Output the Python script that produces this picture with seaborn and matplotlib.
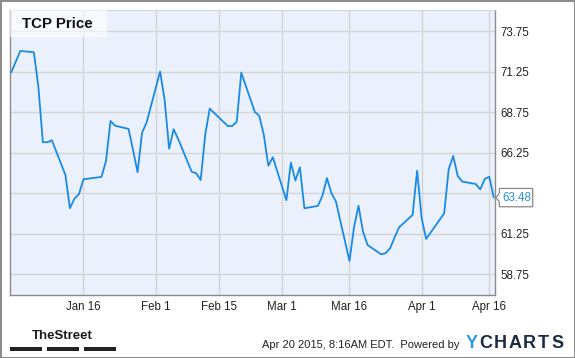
import matplotlib
matplotlib.use("Agg")
import matplotlib.pyplot as plt
import matplotlib.dates as mdates
from matplotlib.patches import Rectangle, Polygon
import pandas as pd
import seaborn as sns

# ---------------- data ----------------
dates = [
    "2014-12-31", "2015-01-02", "2015-01-05", "2015-01-06", "2015-01-07", "2015-01-08",
    "2015-01-09", "2015-01-12", "2015-01-13", "2015-01-14", "2015-01-15", "2015-01-16",
    "2015-01-20", "2015-01-21", "2015-01-22", "2015-01-23", "2015-01-26", "2015-01-27",
    "2015-01-28", "2015-01-29", "2015-01-30", "2015-02-02", "2015-02-03", "2015-02-04",
    "2015-02-05", "2015-02-06", "2015-02-09", "2015-02-10", "2015-02-11", "2015-02-12",
    "2015-02-13", "2015-02-17", "2015-02-18", "2015-02-19", "2015-02-20", "2015-02-23",
    "2015-02-24", "2015-02-25", "2015-02-26", "2015-02-27", "2015-03-02", "2015-03-03",
    "2015-03-04", "2015-03-05", "2015-03-06", "2015-03-09", "2015-03-10", "2015-03-11",
    "2015-03-12", "2015-03-13", "2015-03-16", "2015-03-17", "2015-03-18", "2015-03-19",
    "2015-03-20", "2015-03-23", "2015-03-24", "2015-03-25", "2015-03-26", "2015-03-27",
    "2015-03-30", "2015-03-31", "2015-04-01", "2015-04-02", "2015-04-06", "2015-04-07",
    "2015-04-08", "2015-04-09", "2015-04-10", "2015-04-13", "2015-04-14", "2015-04-15",
    "2015-04-16", "2015-04-17",
]
prices = [
    71.22, 72.53, 72.45, 70.33, 66.90, 66.90,
    67.02, 64.88, 62.82, 63.42, 63.69, 64.61,
    64.76, 65.74, 68.21, 67.92, 67.72, 66.42,
    65.05, 67.49, 68.11, 71.26, 69.51, 66.50,
    67.70, 67.10, 65.08, 64.98, 64.57, 67.35,
    68.97, 67.90, 67.90, 68.17, 71.19, 68.77,
    68.52, 67.35, 65.45, 65.97, 63.32, 65.64,
    64.53, 65.35, 62.82, 62.97, 63.60, 64.68,
    63.75, 63.23, 59.57, 61.65, 62.98, 61.38,
    60.56, 59.98, 60.05, 60.35, 61.02, 61.65,
    62.41, 65.14, 62.21, 60.93, 62.51, 65.23,
    66.05, 64.82, 64.47, 64.32, 63.99, 64.63,
    64.77, 63.48,
]
title = "TCP Price"
ytick_values = [58.75, 61.25, 63.75, 66.25, 68.75, 71.25, 73.75]
# the 63.75 label is hidden behind the last-value marker in the original
ytick_labels = ["58.75", "61.25", "", "66.25", "68.75", "71.25", "73.75"]
xtick_dates = ["2015-01-16", "2015-02-01", "2015-02-15", "2015-03-01",
               "2015-03-16", "2015-04-01", "2015-04-16"]
xtick_labels = ["Jan 16", "Feb 1", "Feb 15", "Mar 1", "Mar 16", "Apr 1", "Apr 16"]
last_label = "63.48"
footer_text = "Apr 20 2015, 8:16AM EDT.  Powered by"
source_logo = "TheStreet"
brand_letters = ["Y", "C", "H", "A", "R", "T", "S"]

# ---------------- style ----------------
sns.set_theme(style="white")
plt.rcParams['font.family'] = ['Liberation Sans', 'DejaVu Sans']

W, H = 575, 358
fig = plt.figure(figsize=(W / 100, H / 100), dpi=100)
fig.patch.set_facecolor('white')


def px(x, y):
    return (x / W, 1 - y / H)


L, R, T, B = 10.3, 494.5, 10.3, 295.0
ax = fig.add_axes([L / W, (H - B) / H, (R - L) / W, (B - T) / H])
ax.set_facecolor('#eaf1fc')

df = pd.DataFrame({"date": pd.to_datetime(dates), "price": prices})
line_color = '#1a8ae6'
sns.lineplot(data=df, x="date", y="price", ax=ax, color=line_color, linewidth=1.3, zorder=3)

ax.set_xlim(pd.Timestamp("2014-12-30 18:40"), pd.Timestamp("2015-04-17 03:50"))
ax.set_ylim(57.47, 75.04)
ax.set_yticks(ytick_values)
ax.set_yticklabels(ytick_labels)
ax.yaxis.tick_right()
ax.set_xticks(mdates.date2num(pd.to_datetime(xtick_dates)))
ax.set_xticklabels(xtick_labels)
ax.tick_params(axis='both', length=0, labelsize=8.3, colors='#222222')
ax.tick_params(axis='y', pad=4)
ax.tick_params(axis='x', pad=4)
ax.grid(True, color='#d4d4d4', linewidth=1.0, zorder=0)
ax.set_axisbelow(True)
ax.set_xlabel('')
ax.set_ylabel('')
for side in ['left', 'bottom', 'right']:
    ax.spines[side].set_color('#8a8a8a')
    ax.spines[side].set_linewidth(1.0)
ax.spines['top'].set_color('#cfd6e0')
ax.spines['top'].set_linewidth(0.8)

# title box
tb0 = px(10.3, 36.7)
fig.add_artist(Rectangle(tb0, (106.7 - 10.3) / W, (36.7 - 10.3) / H,
                         transform=fig.transFigure, facecolor='white', alpha=0.6,
                         edgecolor='none', zorder=5))
fig.text(*px(22, 24), title, fontsize=10.8, fontweight='bold', color='#111111',
         ha='left', va='center', zorder=6)

# last value label
x_disp, y_disp = ax.transData.transform((ax.get_xlim()[1], prices[-1]))
ly = H - y_disp  # pixel y from top
bx0, bx1 = 499.3, 532.7
bh = 18.3
top_, bot_ = ly - bh / 2, ly + bh / 2
poly_px = [(bx0, top_), (bx1, top_), (bx1, bot_), (bx0, bot_),
           (bx0, ly + 4), (496.0, ly), (bx0, ly - 4)]
fig.add_artist(Polygon([px(a, b) for a, b in poly_px], closed=True,
                       transform=fig.transFigure, facecolor='white',
                       edgecolor='#8a8a8a', linewidth=0.9, zorder=6))
fig.text(*px((bx0 + bx1) / 2 + 0.5, ly + 0.5), last_label, fontsize=8.3,
         color='#2a8fe8', ha='center', va='center', zorder=7)

# outer frame
fig.add_artist(Rectangle((0, 0), 1, 1, transform=fig.transFigure, fill=False,
                         edgecolor='#8c8c8c', linewidth=2.2, zorder=10))

# footer: TheStreet logo
fig.text(*px(62.7, 336), source_logo, fontsize=9.5, fontweight='bold',
         color='#1a1a1a', ha='center', va='center', fontstretch='condensed')
for x0, x1 in [(10, 42), (47, 79), (83.6, 116)]:
    fig.add_artist(Rectangle(px(x0, 351), (x1 - x0) / W, 3.6 / H,
                             transform=fig.transFigure, facecolor='#222222',
                             edgecolor='none'))

# footer text
fig.text(*px(459, 345), footer_text, fontsize=8.0, color='#222222',
         ha='right', va='center')

# YCHARTS logo
centers = [471.5, 486, 500.5, 515, 529, 543.5, 558]
for ch, cx in zip(brand_letters, centers):
    col = '#2a9be8' if ch == 'Y' else '#1d2a44'
    fig.text(*px(cx, 344), ch, fontsize=13, fontweight='bold', color=col,
             ha='center', va='center')

fig.savefig("out.png", dpi=100, facecolor='white')
